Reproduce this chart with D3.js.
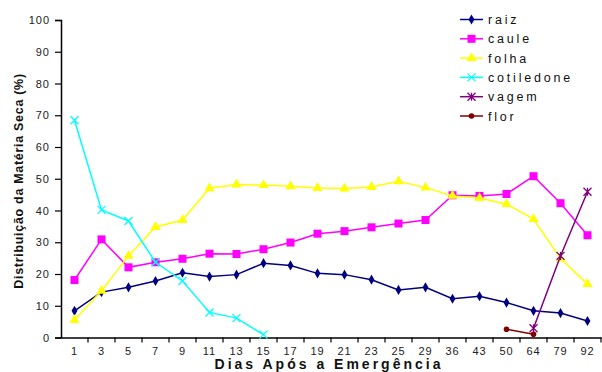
<!DOCTYPE html>
<html><head><meta charset="utf-8">
<script src="https://cdn.jsdelivr.net/npm/d3@7"></script>
<style>body{margin:0;background:#fff}svg{display:block}text{font-family:"Liberation Sans",Arial,sans-serif}</style>
</head><body><svg id="c" width="602" height="372"></svg>
<script>
const categories = ["1","3","5","7","9","11","13","15","17","19","21","23","25","29","36","43","50","64","79","92"];
const raiz = [8.4,14.3,15.8,17.8,20.4,19.2,19.8,23.4,22.7,20.2,19.8,18.2,15.0,15.8,12.2,13.0,11.0,8.4,7.7,5.2];
const caule = [18.1,30.9,22.1,23.7,24.8,26.4,26.3,27.8,29.9,32.7,33.5,34.7,35.9,37.0,44.8,44.6,45.2,50.8,42.3,32.2];
const folha = [5.5,14.7,25.7,34.8,37.0,47.0,48.2,48.0,47.6,47.1,46.9,47.4,49.2,47.2,44.6,43.9,42.0,37.3,24.9,16.8];
const cotiledone = [68.4,40.2,36.7,23.7,17.8,7.9,6.1,0.9,null,null,null,null,null,null,null,null,null,null,null,null];
const vagem = [null,null,null,null,null,null,null,null,null,null,null,null,null,null,null,null,null,2.9,25.7,45.9];
const flor = [null,null,null,null,null,null,null,null,null,null,null,null,null,null,null,null,2.6,1.0,null,null];
const yTicks = [0,10,20,30,40,50,60,70,80,90,100];

const series = [
  {name:"raiz", values:raiz, color:"#000080", sym:"diamond"},
  {name:"caule", values:caule, color:"#FF00FF", sym:"square"},
  {name:"folha", values:folha, color:"#FFFF00", sym:"triangle"},
  {name:"cotiledone", values:cotiledone, color:"#00FFFF", sym:"x"},
  {name:"vagem", values:vagem, color:"#800080", sym:"star"},
  {name:"flor", values:flor, color:"#800000", sym:"circle"}
];

const svg = d3.select("#c");
const L = 61, R = 601, T = 20, B = 337.5;
const x = d3.scaleBand().domain(categories).range([L, R]);
const y = d3.scaleLinear().domain([0,100]).range([B, T]);

const yAxis = d3.axisLeft(y).tickValues(yTicks).tickSize(6).tickPadding(5);
const gy = svg.append("g").attr("transform",`translate(${L},0)`).call(yAxis);
gy.select(".domain").attr("stroke","#000").attr("stroke-width",1.5);
gy.selectAll(".tick line").attr("stroke","#000").attr("stroke-width",1.2);
gy.selectAll(".tick text").attr("font-size",11).attr("fill","#222").attr("letter-spacing","1px");

const xAxis = d3.axisBottom(x).tickSize(0).tickPadding(10);
const gx = svg.append("g").attr("transform",`translate(0,${B})`).call(xAxis);
gx.select(".domain").attr("stroke","#000").attr("stroke-width",1.5);
gx.selectAll(".tick text").attr("font-size",11).attr("fill","#222").attr("letter-spacing","1px");
const bounds = categories.map(c => x(c)).concat([x(categories[categories.length-1]) + x.bandwidth()]);
gx.selectAll(".bt").data(bounds.slice(1)).enter().append("line")
  .attr("x1",d=>d).attr("x2",d=>d).attr("y1",0).attr("y2",5)
  .attr("stroke","#000").attr("stroke-width",1.2);

svg.append("text").attr("transform","translate(23,181) rotate(-90)")
  .attr("text-anchor","middle").attr("font-size",12.5).attr("font-weight","bold")
  .attr("letter-spacing","0.7px").attr("fill","#111")
  .text("Distribuição da Matéria Seca (%)");
svg.append("text").attr("x",329).attr("y",369)
  .attr("text-anchor","middle").attr("font-size",14).attr("font-weight","bold")
  .attr("letter-spacing","3px").attr("fill","#111")
  .text("Dias Após a Emergência");

const cx = i => x(categories[i]) + x.bandwidth()/2;
const line = d3.line().defined(d => d.v != null).x(d => cx(d.i)).y(d => y(d.v));

function drawMarker(g, sym, color, px, py) {
  if (sym === "diamond") {
    g.append("path").attr("d", d3.symbol(d3.symbolDiamond, 30)()).attr("transform",`translate(${px},${py})`).attr("fill",color);
  } else if (sym === "square") {
    g.append("rect").attr("x",px-4).attr("y",py-4).attr("width",8).attr("height",8).attr("fill",color);
  } else if (sym === "triangle") {
    g.append("path").attr("d", d3.symbol(d3.symbolTriangle, 45)()).attr("transform",`translate(${px},${py})`).attr("fill",color);
  } else if (sym === "x") {
    g.append("path").attr("d",`M${px-4},${py-4}L${px+4},${py+4}M${px-4},${py+4}L${px+4},${py-4}`).attr("stroke",color).attr("stroke-width",1.3);
  } else if (sym === "star") {
    g.append("path").attr("d",`M${px-4},${py-4}L${px+4},${py+4}M${px-4},${py+4}L${px+4},${py-4}M${px},${py-4}L${px},${py+4}`).attr("stroke",color).attr("stroke-width",1.3);
  } else if (sym === "circle") {
    g.append("circle").attr("cx",px).attr("cy",py).attr("r",2.8).attr("fill",color);
  }
}

series.forEach(s => {
  const data = s.values.map((v,i) => ({i, v}));
  const g = svg.append("g");
  g.append("path").datum(data).attr("d", line).attr("fill","none").attr("stroke",s.color).attr("stroke-width",1.5);
  data.filter(d => d.v != null).forEach(d => drawMarker(g, s.sym, s.color, cx(d.i), y(d.v)));
});

const lg = svg.append("g");
series.forEach((s,k) => {
  const ly = 19.5 + k*19.3;
  lg.append("line").attr("x1",460).attr("x2",483).attr("y1",ly).attr("y2",ly).attr("stroke",s.color).attr("stroke-width",1.5);
  drawMarker(lg, s.sym, s.color, 471.5, ly);
  lg.append("text").attr("x",488).attr("y",ly+4.5).attr("font-size",12.5).attr("letter-spacing","2.8px").attr("fill","#111").text(s.name);
});
</script></body></html>
